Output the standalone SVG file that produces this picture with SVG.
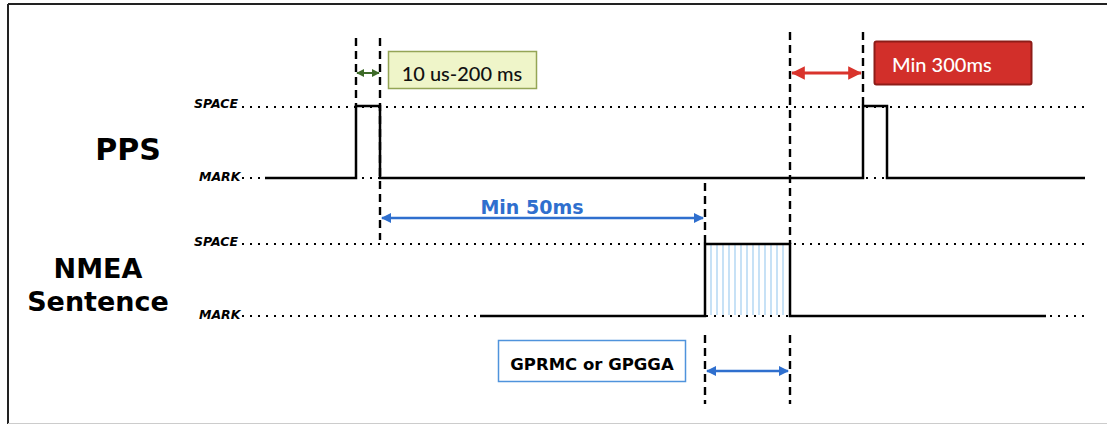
<svg xmlns="http://www.w3.org/2000/svg" width="1107" height="427" viewBox="0 0 1107 427">
<defs>
<style>
.lvl{font-family:"DejaVu Sans",Verdana,sans-serif;font-weight:bold;font-style:italic;font-size:12.5px;fill:#000}
.title{font-family:"DejaVu Sans",Verdana,sans-serif;font-weight:bold;fill:#000;text-anchor:middle}
.dot{stroke:#000;stroke-width:2;stroke-dasharray:2 6;fill:none}
.sig{stroke:#000;stroke-width:2.5;fill:none;stroke-linejoin:miter}
.dash{stroke:#000;stroke-width:2.4;stroke-dasharray:8 5;fill:none}
.hatch{stroke:#a9d2f2;stroke-width:1.3}
.blue{stroke:#2f6fce;stroke-width:2.5;fill:none}
</style>
<marker id="bh" viewBox="0 0 10 10" refX="9" refY="5" markerWidth="4" markerHeight="4" orient="auto-start-reverse"><path d="M0,0 L10,5 L0,10 z" fill="#2f6fce"/></marker>
<marker id="rh" viewBox="0 0 10 10" refX="9.5" refY="5" markerWidth="7" markerHeight="4.5" orient="auto-start-reverse"><path d="M0,0 L10,5 L0,10 z" fill="#d9332c"/></marker>
<marker id="gh" viewBox="0 0 10 10" refX="9" refY="5" markerWidth="4" markerHeight="4" orient="auto-start-reverse"><path d="M0,0 L10,5 L0,10 z" fill="#3d6a28"/></marker>
</defs>
<rect width="1107" height="427" fill="#fff"/>
<g id="frame">
<line x1="8" y1="4" x2="1107" y2="4" stroke="#222" stroke-width="2"/>
<line x1="8" y1="4" x2="8" y2="424" stroke="#222" stroke-width="2"/>
<line x1="8" y1="423.5" x2="1107" y2="423.5" stroke="#ccc" stroke-width="1"/>
</g>
<g id="labels">
<text class="title" x="128" y="160" font-size="30">PPS</text>
<text class="title" x="98" y="278" font-size="27">NMEA</text>
<text class="title" x="98" y="311" font-size="27">Sentence</text>
<text class="lvl" x="194" y="108">SPACE</text>
<text class="lvl" x="199" y="181">MARK</text>
<text class="lvl" x="194" y="246">SPACE</text>
<text class="lvl" x="199" y="319">MARK</text>
</g>
<g id="levels">
<line class="dot" x1="242" y1="107" x2="1085" y2="107"/>
<line class="dot" x1="242" y1="178" x2="1085" y2="178"/>
<line class="dot" x1="242" y1="244" x2="1085" y2="244"/>
<line class="dot" x1="242" y1="316" x2="1085" y2="316"/>
</g>
<g id="hatch">
<line class="hatch" x1="711" y1="245" x2="711" y2="315"/>
<line class="hatch" x1="717" y1="245" x2="717" y2="315"/>
<line class="hatch" x1="723" y1="245" x2="723" y2="315"/>
<line class="hatch" x1="729" y1="245" x2="729" y2="315"/>
<line class="hatch" x1="735" y1="245" x2="735" y2="315"/>
<line class="hatch" x1="741" y1="245" x2="741" y2="315"/>
<line class="hatch" x1="747" y1="245" x2="747" y2="315"/>
<line class="hatch" x1="753" y1="245" x2="753" y2="315"/>
<line class="hatch" x1="759" y1="245" x2="759" y2="315"/>
<line class="hatch" x1="765" y1="245" x2="765" y2="315"/>
<line class="hatch" x1="771" y1="245" x2="771" y2="315"/>
<line class="hatch" x1="777" y1="245" x2="777" y2="315"/>
<line class="hatch" x1="783" y1="245" x2="783" y2="315"/>
</g>
<g id="signals">
<path id="pps" class="sig" d="M265,178 H356 V106 H380 V178 H863 V106 H887 V178 H1085"/>
<path id="nmea" class="sig" d="M480,316 H705 V244 H790 V316 H1046"/>
</g>
<g id="connectors">
<line class="dash" x1="356" y1="38" x2="356" y2="106"/>
<line class="dash" x1="380" y1="38" x2="380" y2="240"/>
<line class="dash" x1="790" y1="32" x2="790" y2="244"/>
<line class="dash" x1="863" y1="32" x2="863" y2="106"/>
<line class="dash" x1="705" y1="183" x2="705" y2="244"/>
<line class="dash" x1="705" y1="335" x2="705" y2="404"/>
<line class="dash" x1="790" y1="335" x2="790" y2="404"/>
<line x1="357" y1="73" x2="379" y2="73" stroke="#3d6a28" stroke-width="2" marker-start="url(#gh)" marker-end="url(#gh)"/>
<line x1="792" y1="73" x2="861" y2="73" stroke="#d9332c" stroke-width="3" marker-start="url(#rh)" marker-end="url(#rh)"/>
<line class="blue" x1="382" y1="218" x2="703" y2="218" marker-start="url(#bh)" marker-end="url(#bh)"/>
<line class="blue" x1="707" y1="371" x2="788" y2="371" marker-start="url(#bh)" marker-end="url(#bh)"/>
</g>
<g id="box-pulse">
<rect x="388.5" y="51.5" width="148" height="37" fill="#eff5c9" stroke="#94a556" stroke-width="1.5"/>
<text x="462" y="81" font-family="Lato,'Liberation Sans',sans-serif" font-size="20" font-weight="500" text-anchor="middle" fill="#111">10 us-200 ms</text>
</g>
<g id="box-300">
<rect x="874.5" y="41.5" width="157" height="43" rx="2" fill="#d22f2a" stroke="#8e1d18" stroke-width="2"/>
<text x="892" y="72" font-family="Lato,'Liberation Sans',sans-serif" font-size="20" font-weight="500" fill="#fff">Min 300ms</text>
</g>
<g id="label-50">
<text x="532" y="214" font-family="'DejaVu Sans',Verdana,sans-serif" font-weight="bold" font-size="19" text-anchor="middle" fill="#2f6fce">Min 50ms</text>
</g>
<g id="box-gprmc">
<rect x="498.5" y="340.5" width="187" height="41" fill="#fff" stroke="#4f93dc" stroke-width="1.5"/>
<text x="592" y="370" font-family="'DejaVu Sans',Verdana,sans-serif" font-weight="bold" font-size="16.5" text-anchor="middle" fill="#000">GPRMC or GPGGA</text>
</g>
</svg>
